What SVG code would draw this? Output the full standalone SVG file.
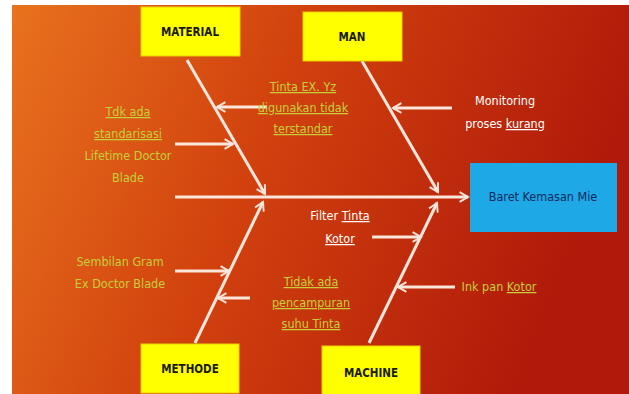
<svg xmlns="http://www.w3.org/2000/svg" width="629" height="394" viewBox="0 0 629 394">
<defs>
<linearGradient id="bg" x1="0" y1="0" x2="1" y2="0.25">
<stop offset="0" stop-color="#e8721e"/>
<stop offset="0.45" stop-color="#d2420e"/>
<stop offset="1" stop-color="#b01a0a"/>
</linearGradient>
<marker id="ah" viewBox="0 0 10 10" refX="8" refY="5" markerWidth="4" markerHeight="4" orient="auto" markerUnits="strokeWidth">
<path d="M1,1 L8,5 L1,9" fill="none" stroke="#fbe6dc" stroke-width="1.6"/>
</marker>
<style>
.ln{stroke:#fbe6dc;stroke-width:3;fill:none;marker-end:url(#ah)}
.box{fill:#ffff00;stroke:#e8d000;stroke-width:1}
.bl{font-family:"Liberation Sans Narrow","DejaVu Sans Condensed","Liberation Sans",sans-serif;font-size:11.5px;font-weight:bold;fill:#1a1a00;text-anchor:middle}
.g{font-family:"Liberation Sans Narrow","DejaVu Sans Condensed","Liberation Sans",sans-serif;font-size:12.5px;fill:#c4cf3a;text-anchor:middle}
.w{font-family:"Liberation Sans Narrow","DejaVu Sans Condensed","Liberation Sans",sans-serif;font-size:12.5px;fill:#ffffff;text-anchor:middle}
.u{text-decoration:underline}
</style>
</defs>
<rect x="0" y="0" width="629" height="394" fill="#ffffff"/>
<rect x="12" y="5" width="617" height="389" fill="url(#bg)"/>
<g id="connectors">
<line class="ln" x1="175" y1="197" x2="468" y2="197"/>
<line class="ln" x1="187" y1="60" x2="265" y2="194"/>
<line class="ln" x1="362" y1="61" x2="438" y2="192"/>
<line class="ln" x1="195" y1="343" x2="263" y2="202"/>
<line class="ln" x1="369" y1="343" x2="437" y2="203"/>
<line class="ln" x1="267" y1="107" x2="217" y2="107"/>
<line class="ln" x1="175" y1="144" x2="233" y2="144"/>
<line class="ln" x1="452" y1="108" x2="393" y2="108"/>
<line class="ln" x1="372" y1="237" x2="421" y2="237"/>
<line class="ln" x1="455" y1="287" x2="398" y2="287"/>
<line class="ln" x1="175" y1="271" x2="229" y2="271"/>
<line class="ln" x1="250" y1="298" x2="218" y2="298"/>
</g>
<g id="material"><rect class="box" x="141" y="7" width="99" height="49"/><text class="bl" x="190" y="36">MATERIAL</text></g>
<g id="man"><rect class="box" x="303" y="12" width="99" height="49"/><text class="bl" x="352" y="41">MAN</text></g>
<g id="methode"><rect class="box" x="141" y="344" width="98" height="49"/><text class="bl" x="190" y="373">METHODE</text></g>
<g id="machine"><rect class="box" x="322" y="346" width="98" height="50"/><text class="bl" x="371" y="377">MACHINE</text></g>
<g id="effect"><rect x="470" y="163" width="147" height="69" fill="#1ea8e6"/><text class="bl" x="543" y="201" style="fill:#102a60;font-weight:normal;font-size:12.5px">Baret Kemasan Mie</text></g>
<g id="c-material-1"><text class="g"><tspan class="u" x="128" y="116">Tdk ada</tspan><tspan class="u" x="128" y="138">standarisasi</tspan><tspan x="128" y="160">Lifetime Doctor</tspan><tspan x="128" y="182">Blade</tspan></text></g>
<g id="c-material-2"><text class="g"><tspan class="u" x="303" y="91">Tinta EX. Yz</tspan><tspan class="u" x="303" y="112">digunakan tidak</tspan><tspan class="u" x="303" y="133">terstandar</tspan></text></g>
<g id="c-man-1"><text class="w"><tspan x="505" y="105">Monitoring</tspan><tspan x="505" y="128">proses <tspan class="u">kurang</tspan></tspan></text></g>
<g id="c-machine-1"><text class="w"><tspan x="340" y="220">Filter <tspan class="u">Tinta</tspan></tspan><tspan class="u" x="340" y="243">Kotor</tspan></text></g>
<g id="c-machine-2"><text class="g"><tspan x="499" y="291">Ink pan <tspan class="u">Kotor</tspan></tspan></text></g>
<g id="c-methode-1"><text class="g"><tspan x="120" y="266">Sembilan Gram</tspan><tspan x="120" y="288">Ex Doctor Blade</tspan></text></g>
<g id="c-methode-2"><text class="g"><tspan class="u" x="311" y="286">Tidak ada</tspan><tspan class="u" x="311" y="307">pencampuran</tspan><tspan class="u" x="311" y="328">suhu Tinta</tspan></text></g>
</svg>
